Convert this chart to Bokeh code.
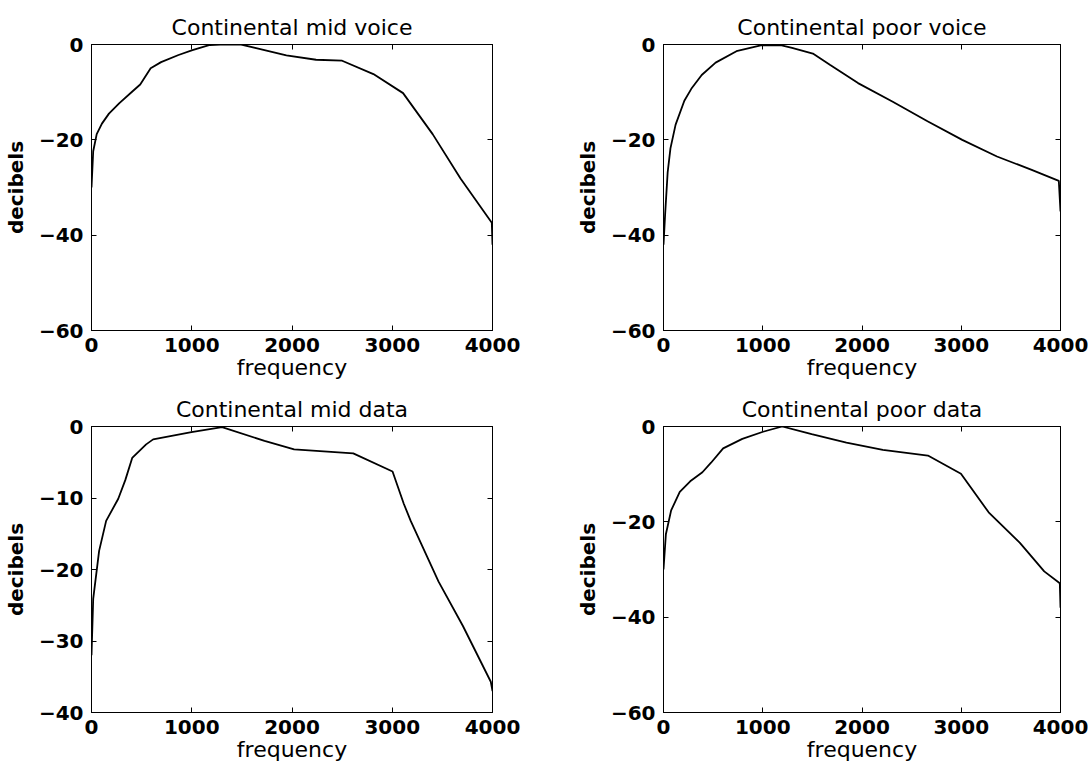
from bokeh.plotting import figure
from bokeh.layouts import column, row
from bokeh.models import Range1d, FixedTicker, LinearAxis, CustomJSTickFormatter
from bokeh.embed import file_html
from bokeh.resources import INLINE

# ---- data ----
titles = ["Continental mid voice", "Continental poor voice",
          "Continental mid data", "Continental poor data"]

mid_voice_f = [0, 17, 52, 104, 174, 278, 410, 486, 590, 694, 868, 1007, 1181, 1285,
               1493, 1632, 1944, 2240, 2500, 2812, 3108, 3403, 3681, 3993, 4000]
mid_voice_db = [-30, -22.4, -18.8, -16.6, -14.5, -12.3, -9.8, -8.4, -5.0, -3.7, -2.2, -1.2,
                -0.1, 0, 0, -0.7, -2.3, -3.2, -3.4, -6.2, -10.2, -18.8, -28.1, -37.4, -42]

poor_voice_f = [0, 17, 42, 70, 122, 210, 280, 385, 525, 735, 980, 1190, 1295, 1505,
                1680, 1960, 2310, 2660, 3010, 3360, 3710, 3983, 4000]
poor_voice_db = [-42, -35.4, -26.8, -21.8, -16.8, -11.8, -9.3, -6.4, -3.8, -1.4, -0.2, -0.2,
                 -0.7, -1.9, -4.3, -8.1, -12.0, -16.1, -20.0, -23.5, -26.3, -28.6, -35]

mid_data_f = [0, 17, 76, 146, 267, 337, 406, 545, 615, 997, 1302, 1726, 2021, 2611,
              3003, 3115, 3184, 3462, 3705, 3983, 4000]
mid_data_db = [-32, -24.1, -17.4, -13.2, -10.1, -7.5, -4.4, -2.5, -1.8, -0.8, -0.1, -2.0,
               -3.2, -3.75, -6.3, -10.8, -13.2, -21.7, -27.9, -35.7, -37]

poor_data_f = [0, 24, 77, 164, 269, 392, 479, 601, 794, 1003, 1196, 1493, 1843, 2210,
               2664, 2997, 3276, 3591, 3836, 3993, 4000]
poor_data_db = [-30, -22.6, -17.6, -13.7, -11.5, -9.6, -7.6, -4.6, -2.6, -1.1, 0, -1.6,
                -3.4, -4.9, -6.1, -9.9, -18.0, -24.4, -30.4, -32.9, -38]

x_ticks = [0, 1000, 2000, 3000, 4000]
x_tick_labels = ["0", "1000", "2000", "3000", "4000"]
y_ticks_60 = [-60, -40, -20, 0]
y_tick_labels_60 = ["\u221260", "\u221240", "\u221220", "0"]
y_ticks_40 = [-40, -30, -20, -10, 0]
y_tick_labels_40 = ["\u221240", "\u221230", "\u221220", "\u221210", "0"]

FONT = "DejaVu Sans"


def make(title, f, db, yticks, ylabels, fw, fh, bl, br, bt, bb):
    p = figure(frame_width=fw, frame_height=fh,
               x_range=Range1d(0, 4000), y_range=Range1d(min(yticks), 0),
               output_backend="svg", toolbar_location=None, tools="",
               min_border_left=bl, min_border_right=br,
               min_border_top=bt, min_border_bottom=bb)
    p.title.text = title
    p.title.align = "center"
    p.title.text_font = FONT
    p.title.text_font_style = "normal"
    p.title.text_font_size = "22px"
    p.title.text_color = "black"
    p.title.standoff = 10
    p.title.offset = 0

    p.line(f, db, line_color="black", line_width=1.8)

    p.xgrid.visible = False
    p.ygrid.visible = False
    p.outline_line_color = "black"
    p.outline_line_width = 1
    p.background_fill_color = "white"
    p.border_fill_color = "white"

    xa = p.xaxis[0]
    xa.ticker = FixedTicker(ticks=x_ticks)
    xa.major_label_overrides = {t: l for t, l in zip(x_ticks, x_tick_labels)}
    xa.axis_label = "frequency"
    ya = p.yaxis[0]
    ya.ticker = FixedTicker(ticks=yticks)
    ya.major_label_overrides = {t: l for t, l in zip(yticks, ylabels)}
    ya.axis_label = "decibels"

    for ax in (xa, ya):
        ax.axis_line_color = "black"
        ax.major_tick_line_color = "black"
        ax.major_tick_in = 5
        ax.major_tick_out = 0
        ax.minor_tick_line_color = None
        ax.major_label_text_font = FONT
        ax.major_label_text_font_style = "bold"
        ax.major_label_text_font_size = "20px"
        ax.major_label_text_color = "black"
        ax.axis_label_text_font = FONT
        ax.axis_label_text_color = "black"
    xa.major_label_standoff = 7
    xa.axis_label_text_font_style = "normal"
    xa.axis_label_text_font_size = "22px"
    xa.axis_label_standoff = 0
    ya.major_label_standoff = 8
    ya.axis_label_text_font_style = "bold"
    ya.axis_label_text_font_size = "20px"
    ya.axis_label_standoff = 8

    blank = CustomJSTickFormatter(code="return ''")
    ra = LinearAxis(ticker=FixedTicker(ticks=yticks), formatter=blank)
    ta = LinearAxis(ticker=FixedTicker(ticks=x_ticks), formatter=blank)
    for ax in (ra, ta):
        ax.axis_line_color = "black"
        ax.major_tick_line_color = "black"
        ax.major_tick_in = 5
        ax.major_tick_out = 0
        ax.minor_tick_line_color = None
        ax.major_label_standoff = 0
        ax.major_label_text_font_size = "1px"
    p.add_layout(ra, "right")
    p.add_layout(ta, "above")
    return p


FW1, FW2 = 401, 397
FH = 286

p1 = make(titles[0], mid_voice_f, mid_voice_db, y_ticks_60, y_tick_labels_60,
          FW1, FH, 85, 80, 44, 20)
p2 = make(titles[1], poor_voice_f, poor_voice_db, y_ticks_60, y_tick_labels_60,
          FW2, FH, 85, 28, 44, 20)
p3 = make(titles[2], mid_data_f, mid_data_db, y_ticks_40, y_tick_labels_40,
          FW1, FH, 85, 80, 44, 20)
p4 = make(titles[3], poor_data_f, poor_data_db, y_ticks_60, y_tick_labels_60,
          FW2, FH, 85, 28, 44, 20)

layout = column(row(p1, p2, spacing=0), row(p3, p4, spacing=0), spacing=0)

open("out.html", "w").write(file_html(layout, INLINE))
